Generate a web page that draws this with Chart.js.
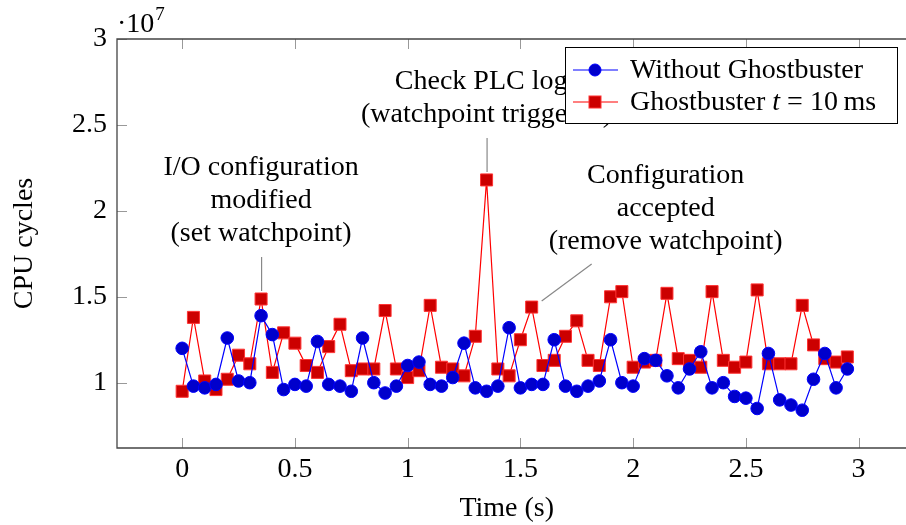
<!DOCTYPE html>
<html>
<head>
<meta charset="utf-8">
<script src="https://cdn.jsdelivr.net/npm/chart.js@4.4.1/dist/chart.umd.min.js"></script>
<style>
  html, body { margin: 0; padding: 0; background: #fff; }
  #wrap { width: 906px; height: 525px; }
</style>
</head>
<body>
<div id="wrap"><canvas id="cpuChart" width="906" height="525"></canvas></div>
<script>
// Temps (s) : un point toutes les 50 ms
var times = [0, 0.05, 0.1, 0.15, 0.2, 0.25, 0.3, 0.35, 0.4, 0.45,
             0.5, 0.55, 0.6, 0.65, 0.7, 0.75, 0.8, 0.85, 0.9, 0.95,
             1, 1.05, 1.1, 1.15, 1.2, 1.25, 1.3, 1.35, 1.4, 1.45,
             1.5, 1.55, 1.6, 1.65, 1.7, 1.75, 1.8, 1.85, 1.9, 1.95,
             2, 2.05, 2.1, 2.15, 2.2, 2.25, 2.3, 2.35, 2.4, 2.45,
             2.5, 2.55, 2.6, 2.65, 2.7, 2.75, 2.8, 2.85, 2.9, 2.95];

// Cycles CPU sans Ghostbuster
var withoutGhostbuster = [1.20e7, 0.98e7, 0.97e7, 0.99e7, 1.26e7, 1.01e7, 1.00e7, 1.39e7, 1.28e7, 0.96e7,
                          0.99e7, 0.98e7, 1.24e7, 0.99e7, 0.98e7, 0.95e7, 1.26e7, 1.00e7, 0.94e7, 0.98e7,
                          1.10e7, 1.12e7, 0.99e7, 0.98e7, 1.03e7, 1.23e7, 0.97e7, 0.95e7, 0.98e7, 1.32e7,
                          0.97e7, 0.99e7, 0.99e7, 1.25e7, 0.98e7, 0.95e7, 0.98e7, 1.01e7, 1.25e7, 1.00e7,
                          0.98e7, 1.14e7, 1.13e7, 1.04e7, 0.97e7, 1.08e7, 1.18e7, 0.97e7, 1.00e7, 0.92e7,
                          0.91e7, 0.85e7, 1.17e7, 0.90e7, 0.87e7, 0.84e7, 1.02e7, 1.17e7, 0.97e7, 1.08e7];

// Cycles CPU avec Ghostbuster t = 10 ms
var withGhostbuster = [0.95e7, 1.38e7, 1.01e7, 0.96e7, 1.02e7, 1.16e7, 1.11e7, 1.487e7, 1.06e7, 1.29e7,
                       1.23e7, 1.10e7, 1.06e7, 1.21e7, 1.34e7, 1.07e7, 1.08e7, 1.08e7, 1.42e7, 1.08e7,
                       1.03e7, 1.07e7, 1.45e7, 1.09e7, 1.08e7, 1.04e7, 1.27e7, 2.18e7, 1.08e7, 1.04e7,
                       1.25e7, 1.44e7, 1.10e7, 1.13e7, 1.27e7, 1.36e7, 1.13e7, 1.10e7, 1.50e7, 1.53e7,
                       1.09e7, 1.12e7, 1.13e7, 1.52e7, 1.14e7, 1.13e7, 1.09e7, 1.53e7, 1.13e7, 1.09e7,
                       1.12e7, 1.54e7, 1.11e7, 1.11e7, 1.11e7, 1.45e7, 1.22e7, 1.14e7, 1.12e7, 1.15e7];

// Graduations
var xTicks = [0, 0.5, 1, 1.5, 2, 2.5, 3];
var yTicks = [1e7, 1.5e7, 2e7, 2.5e7, 3e7];

// Annotations (index du point visé + texte)
var annotations = [
    { index: 7,  lines: ['I/O configuration', 'modified', '(set watchpoint)'], dx: 0 },
    { index: 27, lines: ['Check PLC logs', '(watchpoint triggered)'], dx: 0 },
    { index: 31, lines: ['Configuration', 'accepted', '(remove watchpoint)'], dx: 134, slanted: true }
];

var FONT = "'Liberation Serif', 'Times New Roman', serif";
var FS = 28;

function toPoints(xs, ys) {
    return xs.map(function (x, i) { return { x: x, y: ys[i] }; });
}

// Cadre, graduations internes, annotations, légende et facteur ·10^7
var pgfDecor = {
    id: 'pgfDecor',
    beforeDatasetsDraw: function (chart) {
        var ctx = chart.ctx, a = chart.chartArea;
        var xs = chart.scales.x, ys = chart.scales.y;
        ctx.save();
        ctx.strokeStyle = '#999';
        ctx.lineWidth = 1;
        xTicks.forEach(function (v) {
            var px = Math.round(xs.getPixelForValue(v)) + 0.5;
            ctx.beginPath();
            ctx.moveTo(px, a.bottom); ctx.lineTo(px, a.bottom - 10);
            ctx.moveTo(px, a.top); ctx.lineTo(px, a.top + 10);
            ctx.stroke();
        });
        yTicks.forEach(function (v) {
            var py = Math.round(ys.getPixelForValue(v)) + 0.5;
            ctx.beginPath();
            ctx.moveTo(a.left, py); ctx.lineTo(a.left + 10, py);
            ctx.stroke();
        });
        ctx.strokeStyle = '#444';
        ctx.lineWidth = 1.3;
        ctx.beginPath();
        ctx.moveTo(chart.width, a.top);
        ctx.lineTo(a.left, a.top);
        ctx.lineTo(a.left, a.bottom);
        ctx.lineTo(chart.width, a.bottom);
        ctx.stroke();
        ctx.restore();
    },
    afterDatasetsDraw: function (chart) {
        var ctx = chart.ctx, a = chart.chartArea;
        var xs = chart.scales.x, ys = chart.scales.y;
        ctx.save();

        // annotations
        ctx.font = FS + 'px ' + FONT;
        ctx.fillStyle = '#000';
        ctx.textAlign = 'center';
        ctx.textBaseline = 'middle';
        annotations.forEach(function (an) {
            var px = xs.getPixelForValue(times[an.index]);
            var py = ys.getPixelForValue(withGhostbuster[an.index]);
            ctx.strokeStyle = '#888';
            ctx.lineWidth = 1.2;
            ctx.beginPath();
            if (an.slanted) {
                ctx.moveTo(px + 10, py - 6);
                ctx.lineTo(px + 60, py - 43);
            } else {
                ctx.moveTo(px + 0.5, py - 8);
                ctx.lineTo(px + 0.5, py - 42);
            }
            ctx.stroke();
            var n = an.lines.length;
            an.lines.forEach(function (t, i) {
                ctx.fillText(t, px + an.dx, py - 65 - (n - 1 - i) * 33);
            });
        });

        // légende
        var lx = 565, ly = 47, lw = 332, lh = 76;
        ctx.fillStyle = '#fff';
        ctx.fillRect(lx, ly, lw, lh);
        ctx.strokeStyle = '#000';
        ctx.lineWidth = 1;
        ctx.strokeRect(lx + 0.5, ly + 0.5, lw, lh);
        chart.data.datasets.forEach(function (ds, i) {
            var cy = ly + 23 + i * 32;
            ctx.strokeStyle = ds.borderColor;
            ctx.lineWidth = ds.borderWidth;
            ctx.beginPath();
            ctx.moveTo(lx + 8, cy); ctx.lineTo(lx + 53, cy);
            ctx.stroke();
            ctx.fillStyle = ds.pointBackgroundColor;
            ctx.strokeStyle = ds.pointBorderColor;
            ctx.lineWidth = 1;
            if (ds.pointStyle === 'rect') {
                ctx.fillRect(lx + 24, cy - 6, 12, 12);
                ctx.strokeRect(lx + 24, cy - 6, 12, 12);
            } else {
                ctx.beginPath();
                ctx.arc(lx + 30, cy, 6, 0, Math.PI * 2);
                ctx.fill(); ctx.stroke();
            }
            ctx.fillStyle = '#000';
            ctx.textAlign = 'left';
            ctx.font = FS + 'px ' + FONT;
            var tx = lx + 65;
            if (i === 0) {
                ctx.fillText(ds.label, tx, cy + 1);
            } else {
                // Ghostbuster t = 10 ms (t en italique)
                var parts = [['Ghostbuster ', ''], ['t', 'italic '], [' = 10\u2009ms', '']];
                parts.forEach(function (p) {
                    ctx.font = p[1] + FS + 'px ' + FONT;
                    ctx.fillText(p[0], tx, cy + 1);
                    tx += ctx.measureText(p[0]).width;
                });
            }
        });

        // facteur d'échelle
        ctx.font = FS + 'px ' + FONT;
        ctx.textAlign = 'left';
        ctx.fillStyle = '#000';
        var base = '\u00b710';
        ctx.fillText(base, a.left, 25);
        var w = ctx.measureText(base).width;
        ctx.font = '19px ' + FONT;
        ctx.fillText('7', a.left + w + 1, 15);
        ctx.restore();
    }
};

var ctxCpu = document.getElementById('cpuChart').getContext('2d');
var cpuChart = new Chart(ctxCpu, {
    type: 'scatter',
    data: {
        datasets: [{
            label: 'Without Ghostbuster',
            data: toPoints(times, withoutGhostbuster),
            showLine: true,
            borderColor: '#0000ff',
            borderWidth: 1.2,
            pointStyle: 'circle',
            pointRadius: 6.3,
            pointBackgroundColor: '#0000cc',
            pointBorderColor: '#0000ff',
            pointBorderWidth: 1
        }, {
            label: 'Ghostbuster t = 10 ms',
            data: toPoints(times, withGhostbuster),
            showLine: true,
            borderColor: '#ff0000',
            borderWidth: 1.2,
            pointStyle: 'rect',
            pointRadius: 8.5,
            pointBackgroundColor: '#cc0000',
            pointBorderColor: '#ff3333',
            pointBorderWidth: 1
        }]
    },
    options: {
        responsive: false,
        animation: false,
        layout: { padding: { top: 39, right: 0, left: 0, bottom: 0 } },
        plugins: { legend: { display: false }, tooltip: { enabled: false } },
        scales: {
            x: {
                type: 'linear',
                min: -0.289,
                max: 3.168,
                afterBuildTicks: function (scale) {
                    scale.ticks = xTicks.map(function (v) { return { value: v }; });
                },
                afterFit: function (scale) {
                    scale.height = 77;
                },
                grid: { display: false, drawTicks: false },
                border: { display: false },
                ticks: {
                    padding: 5,
                    color: '#000',
                    font: { family: FONT, size: FS },
                    maxRotation: 0,
                    callback: function (v) { return String(v); }
                },
                title: {
                    display: true,
                    text: 'Time (s)',
                    color: '#000',
                    font: { family: FONT, size: FS },
                    padding: { top: 3, bottom: 0 }
                }
            },
            y: {
                min: 0.62e7,
                max: 3e7,
                afterBuildTicks: function (scale) {
                    scale.ticks = yTicks.map(function (v) { return { value: v }; });
                },
                afterFit: function (scale) {
                    scale.width = 117;
                },
                grid: { display: false, drawTicks: false },
                border: { display: false },
                ticks: {
                    padding: 10,
                    color: '#000',
                    font: { family: FONT, size: FS },
                    callback: function (v) { return String(Math.round(v / 1e6) / 10); }
                },
                title: {
                    display: true,
                    text: 'CPU cycles',
                    color: '#000',
                    font: { family: FONT, size: FS },
                    padding: { top: 8, bottom: 0 }
                }
            }
        }
    },
    plugins: [pgfDecor]
});
</script>
</body>
</html>
